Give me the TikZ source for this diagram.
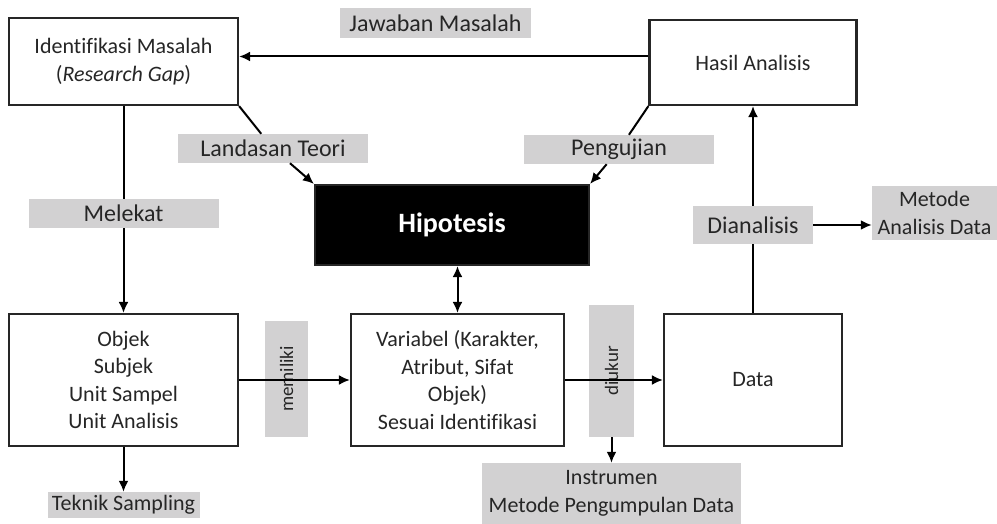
\documentclass[tikz,border=0pt]{standalone}
\usepackage{fontspec}
\setmainfont{Carlito}[Ligatures = NoCommon]
\usepackage{xcolor}
\usepackage{tikz}
\usetikzlibrary{arrows.meta}
\definecolor{lblgray}{HTML}{D2D1D2}
\definecolor{inkgray}{HTML}{262626}
\newcommand{\bxs}{\fontsize{22}{27.5}\selectfont}
\newcommand{\lbs}{\fontsize{24}{29}\selectfont}
\newcommand{\vts}{\fontsize{19}{22}\selectfont}

\begin{document}
\begin{tikzpicture}[x = 1pt, y = 1pt,
    box/.style = {draw = black!85, line width = 2.2pt, fill = white, align = center, text = inkgray, inner sep = 0pt, font = \bxs},
    lbl/.style = {fill = lblgray, align = center, text = inkgray, inner sep = 0pt, font = \lbs},
    arr/.style = {line width = 2pt, -{Latex[length = 11pt, width = 10pt]}}]
    \useasboundingbox (0,0) rectangle (997,-524);
    \foreach \n/\x/\y/\w/\h/\t in {jawab/435.5/23/191/30/Jawaban Masalah, landasan/273/148.5/190/29/Landasan Teori, uji/619/149.5/190/29/Pengujian, melekat/123.5/213.5/190/29/Melekat, analisis/753/225/120/38/Dianalisis} {
      \node[lbl, minimum width = \w, minimum height = \h] (\n) at (\x,-\y) {\t};
    }
    \node[lbl, font = \bxs, minimum width = 152, minimum height = 26] (teknik) at (123.5,-505) {Teknik Sampling};
    \node[lbl, font = \bxs, minimum width = 259, minimum height = 61] (instr) at (611.5,-493.5) {Instrumen\\Metode Pengumpulan Data};
    \node[lbl, font = \bxs, minimum width = 125, minimum height = 54] (metode) at (934.5,-213) {Metode\\Analisis Data};
    \node[lbl, font = \vts, rotate = 90, minimum width = 116, minimum height = 43] (milik) at (286.5,-379) {memiliki};
    \node[lbl, font = \vts, rotate = 90, minimum width = 132, minimum height = 45] (ukur) at (611.5,-371) {diukur};

    \node[box, minimum width = 229, minimum height = 87] (ident) at (123.5,-61.5) {Identifikasi Masalah\\(\textit{Research Gap})};
    \node[box, minimum width = 207, minimum height = 85] (hasil) at (753,-62.5) {Hasil Analisis};
    \node[box, fill = black, text = white, font = \fontsize{28}{32}\selectfont\bfseries, minimum width = 274, minimum height = 80] (hipo) at (452,-225) {Hipotesis};
    \node[box, minimum width = 229, minimum height = 132] (objek) at (123.5,-380) {Objek\\Subjek\\Unit Sampel\\Unit Analisis};
    \node[box, minimum width = 213, minimum height = 132] (var) at (457.5,-380) {Variabel (Karakter,\\Atribut, Sifat\\Objek)\\Sesuai Identifikasi};
    \node[box, minimum width = 178, minimum height = 132] (data) at (753,-380) {Data};

    \draw[arr] ([yshift = 6]hasil.west) -- ([yshift = 6]hasil.west -| ident.east);
    \draw[line width = 2pt] (ident.south east) edge (landasan) (hasil.south west) edge (uji);
    \draw[arr] (landasan) edge (hipo.north west) (uji) edge (hipo.north east);
    \draw[line width = 2pt] (ident) edge (melekat) (data) edge (analisis);
    \foreach \i\j in {melekat/objek, objek/teknik, objek/var, var/data, analisis/hasil} {
      \draw[arr] (\i) edge (\j);
    }
    \draw[arr] (ukur.west) -- (instr);
    \draw[arr] (analisis.east) -- (analisis.east -| metode.west);
    \draw[line width = 2pt, {Latex[length = 11pt, width = 10pt]}-{Latex[length = 11pt, width = 10pt]}] (hipo.south -| var.north) -- (var.north);
  \end{tikzpicture}
\end{document}
